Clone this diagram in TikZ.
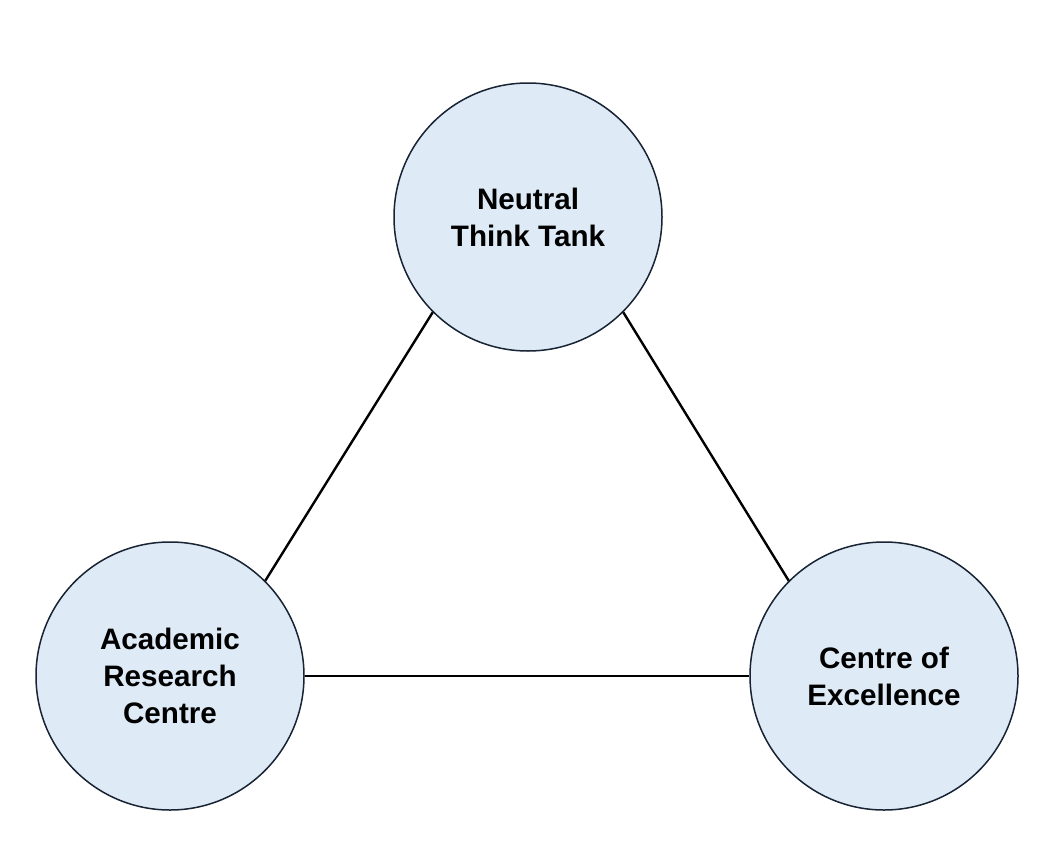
\documentclass[tikz,border=0pt]{standalone}
\usepackage{fontspec}
\setmainfont{Liberation Sans}
\definecolor{circFill}{RGB}{222,234,246}
\definecolor{circLine}{RGB}{24,36,52}
\usetikzlibrary{positioning}

\begin{document}
\begin{tikzpicture}[
  x=1pt, y=-1pt,
  hub/.style={circle, draw=circLine, line width=1.5pt, fill=circFill,
              minimum size=268pt, inner sep=0pt, align=center,
              font=\fontsize{29.6}{37}\selectfont\bfseries},
  link/.style={line width=2.4pt, black}
]
\useasboundingbox (0,0) rectangle (1049,851);

% Organisations
\node[hub] (think) at (528,217) {Neutral\\Think Tank};
\node[hub] (acad)  at (170,676) {Academic\\Research\\Centre};
\node[hub] (coe)   at (884,676) {Centre of\\Excellence};

% Links
\draw[link] (think.south west) -- (acad.north east);
\draw[link] (think.south east) -- (coe.north west);
\draw[link] (acad.east) -- (coe.west);

\end{tikzpicture}
\end{document}
